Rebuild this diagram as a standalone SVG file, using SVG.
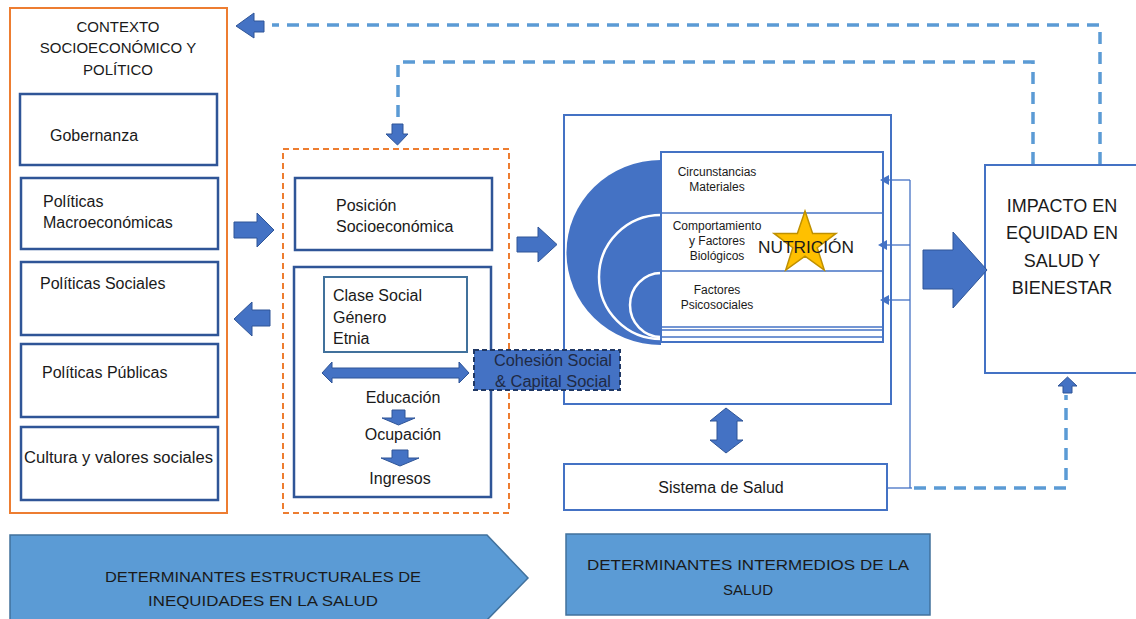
<svg xmlns="http://www.w3.org/2000/svg" width="1136" height="619" viewBox="0 0 1136 619">
<style>
text{font-family:"Liberation Sans",Arial,sans-serif;fill:#1a1a1a}
.orange{fill:#fff;stroke:#ED7D31;stroke-width:2}
.odash{fill:none;stroke:#ED7D31;stroke-width:2;stroke-dasharray:6 4}
.dbox{fill:#fff;stroke:#2F5597;stroke-width:2.5}
.lbox{fill:#fff;stroke:#4472C4;stroke-width:2}
.arr{fill:#4472C4;stroke:#2F5597;stroke-width:1}
.fb{fill:none;stroke:#5B9BD5;stroke-width:3.5;stroke-dasharray:12 8}
.thin{fill:none;stroke:#4472C4;stroke-width:1.3}
.band{fill:#5B9BD5;stroke:#41719C;stroke-width:1.5}
.c{text-anchor:middle}
</style>
<rect width="1136" height="619" fill="#fff"/>

<g id="contexto">
<rect class="orange" x="10" y="8" width="217" height="505"/>
<text class="c" x="118" y="32" font-size="15">CONTEXTO</text>
<text class="c" x="118" y="53" font-size="15">SOCIOECONÓMICO Y</text>
<text class="c" x="118" y="75" font-size="15">POLÍTICO</text>
</g>
<g id="gobernanza"><rect class="dbox" x="20" y="94" width="197" height="71"/><text x="50" y="141" font-size="16">Gobernanza</text></g>
<g id="macro"><rect class="dbox" x="21" y="178" width="197" height="71"/><text x="43" y="207" font-size="16">Políticas</text><text x="43" y="228" font-size="16">Macroeconómicas</text></g>
<g id="sociales"><rect class="dbox" x="21" y="262" width="197" height="73"/><text x="40" y="289" font-size="16">Políticas Sociales</text></g>
<g id="publicas"><rect class="dbox" x="21" y="344" width="197" height="73"/><text x="42" y="378" font-size="16">Políticas Públicas</text></g>
<g id="cultura"><rect class="dbox" x="21" y="427" width="197" height="73"/><text x="24" y="463" font-size="16" textLength="189" lengthAdjust="spacingAndGlyphs">Cultura y valores sociales</text></g>

<g id="estructurales">
<rect class="odash" x="283" y="149" width="226" height="364"/>
</g>
<g id="posicion"><rect class="dbox" x="295" y="178" width="197" height="72"/><text x="336" y="211" font-size="16">Posición</text><text x="336" y="232" font-size="16">Socioeconómica</text></g>
<g id="ejes">
<rect class="dbox" x="294" y="267" width="197" height="230"/>
<rect fill="#fff" stroke="#41719C" stroke-width="2" x="324" y="277" width="143" height="75"/>
<text x="333" y="301" font-size="16">Clase Social</text>
<text x="333" y="323" font-size="16">Género</text>
<text x="333" y="344" font-size="16">Etnia</text>
<text class="c" x="403" y="403" font-size="16">Educación</text>
<text class="c" x="403" y="440" font-size="16">Ocupación</text>
<text class="c" x="400" y="484" font-size="16">Ingresos</text>
</g>

<g id="intermedios">
<rect class="lbox" x="564" y="115" width="327" height="289"/>
<path d="M661,160 A94,92 0 0 0 661,345 Z" fill="#4472C4"/>
<path d="M661,215 A62,62 0 0 0 661,339" fill="none" stroke="#fff" stroke-width="2.5"/>
<path d="M661,273 A31,32 0 0 0 661,337" fill="none" stroke="#fff" stroke-width="2.5"/>
<rect class="lbox" x="661" y="152" width="222" height="190" fill="#fff"/>
<line class="thin" x1="661" y1="213" x2="883" y2="213" stroke-width="2"/>
<line class="thin" x1="661" y1="271" x2="883" y2="271" stroke-width="2"/>
<line class="thin" x1="661" y1="327" x2="883" y2="327" stroke-width="2"/>
<line class="thin" x1="661" y1="330" x2="883" y2="330" stroke-width="1.3"/>
<line class="thin" x1="661" y1="337" x2="883" y2="337" stroke-width="2"/>
<text class="c" x="717" y="176" font-size="12">Circunstancias</text>
<text class="c" x="717" y="191" font-size="12">Materiales</text>
<text class="c" x="717" y="230" font-size="12">Comportamiento</text>
<text class="c" x="717" y="245" font-size="12">y Factores</text>
<text class="c" x="717" y="260" font-size="12">Biológicos</text>
<text class="c" x="717" y="294" font-size="12">Factores</text>
<text class="c" x="717" y="309" font-size="12">Psicosociales</text>
<polygon points="805,211 812.6,233.4 836,233.4 817.2,247.7 824.3,270 805,256.2 785.7,270 792.8,247.7 774,233.4 797.4,233.4" fill="#FFC000" stroke="#BF9000" stroke-width="1.5"/>
<text x="758" y="253" font-size="17" textLength="96" lengthAdjust="spacingAndGlyphs">NUTRICIÓN</text>
</g>

<g id="cohesion">
<rect fill="#4472C4" stroke="#203864" stroke-width="2" stroke-dasharray="5 3" x="474" y="350" width="146" height="40"/>
<text x="494" y="366" font-size="16" textLength="118" lengthAdjust="spacingAndGlyphs" style="fill:#1F2A44">Cohesión Social</text>
<text x="495" y="387" font-size="16" textLength="116" lengthAdjust="spacingAndGlyphs" style="fill:#1F2A44">&amp; Capital Social</text>
</g>

<g id="sistema"><rect class="lbox" x="564" y="464" width="323" height="46"/><text class="c" x="721" y="493" font-size="16">Sistema de Salud</text></g>

<g id="impacto">
<rect class="lbox" x="985" y="165" width="160" height="208"/>
<text class="c" x="1062" y="212" font-size="18">IMPACTO EN</text>
<text class="c" x="1062" y="239" font-size="18">EQUIDAD EN</text>
<text class="c" x="1062" y="267" font-size="18">SALUD Y</text>
<text class="c" x="1062" y="294" font-size="18">BIENESTAR</text>
</g>

<g id="bandas">
<polygon class="band" points="10,535 487,535 528,578 487,620 10,620"/>
<text class="c" x="263" y="582" font-size="15" textLength="316" lengthAdjust="spacingAndGlyphs">DETERMINANTES ESTRUCTURALES DE</text>
<text class="c" x="263" y="606" font-size="15" textLength="230" lengthAdjust="spacingAndGlyphs">INEQUIDADES EN LA SALUD</text>
<rect class="band" x="566" y="534" width="364" height="81"/>
<text class="c" x="748" y="570" font-size="15" textLength="322" lengthAdjust="spacingAndGlyphs">DETERMINANTES INTERMEDIOS DE LA</text>
<text class="c" x="748" y="595" font-size="15">SALUD</text>
</g>

<g id="conectores">
<polygon class="arr" points="234,222 257,222 257,213 274,230 257,247 257,238 234,238"/>
<polygon class="arr" points="270,310 252,310 252,302 234,319 252,336 252,326 270,326"/>
<polygon class="arr" points="517,237 538,237 538,227 557,244.5 538,262 538,252 517,252"/>
<polygon class="arr" points="923,250 953,250 953,232 987,270 953,308 953,289 923,289"/>
<polygon class="arr" points="322,373 332,362 332,368 459,368 459,362 469,373 459,383 459,378 332,378 332,383"/>
<polygon class="arr" points="392,410 405,410 405,418 415,418 398.5,425 382,418 392,418"/>
<polygon class="arr" points="392,450 408,450 408,458 419,458 400,466 381,458 392,458"/>
<polygon class="arr" points="726,408 743,421 737,421 737,440 743,440 726,453 710,440 717,440 717,421 710,421"/>
<path class="fb" d="M1100,164 V25 H272"/>
<polygon class="arr" points="264,21 254,21 254,13 236,26 254,38 254,32 264,32"/>
<path class="fb" d="M1033,164 V62 H398 V118"/>
<polygon class="arr" points="392,124 403,124 403,134 408,134 397.5,145 386,134 392,134"/>
<line class="thin" x1="910" y1="180" x2="910" y2="488"/>
<line class="thin" x1="910" y1="180" x2="884" y2="180"/>
<line class="thin" x1="910" y1="245" x2="884" y2="245"/>
<line class="thin" x1="910" y1="300" x2="884" y2="300"/>
<polygon points="880,180 889,175 889,185" fill="#4472C4"/>
<polygon points="878,245 887,240 887,250" fill="#4472C4"/>
<polygon points="880,300 889,295 889,305" fill="#4472C4"/>
<line class="thin" x1="887" y1="488" x2="912" y2="488"/>
<path class="fb" d="M914,488 H1066 V395"/>
<polygon class="arr" points="1063,393 1072,393 1072,386 1077,386 1067.5,377 1058,386 1063,386"/>
</g>
</svg>
